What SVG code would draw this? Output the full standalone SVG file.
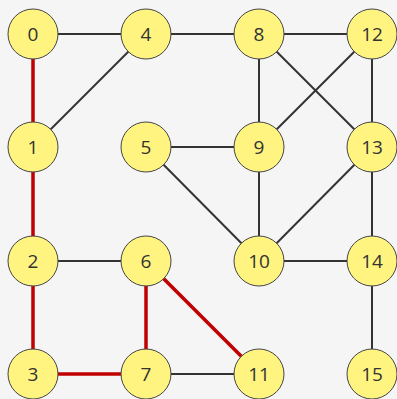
<svg xmlns="http://www.w3.org/2000/svg" width="397" height="399" viewBox="0 0 397 399">
<style>
.e{stroke:#333;stroke-width:2;fill:none}
.r{stroke:#c00000;stroke-width:3.5;fill:none}
.n circle{fill:#fff480;stroke:#444;stroke-width:1}
.n text{font-family:"Open Sans","DejaVu Sans",sans-serif;font-size:19px;fill:#333;text-anchor:middle;dominant-baseline:central}
</style>
<rect width="397" height="399" fill="#f5f5f5"/>
<g id="edges">
<line class="e" x1="33" y1="34" x2="146" y2="34"/>
<line class="e" x1="33" y1="147" x2="146" y2="34"/>
<line class="e" x1="33" y1="261" x2="146" y2="261"/>
<line class="e" x1="146" y1="374" x2="259" y2="374"/>
<line class="e" x1="146" y1="34" x2="259" y2="34"/>
<line class="e" x1="259" y1="34" x2="372" y2="34"/>
<line class="e" x1="259" y1="34" x2="259" y2="147"/>
<line class="e" x1="259" y1="34" x2="372" y2="147"/>
<line class="e" x1="372" y1="34" x2="259" y2="147"/>
<line class="e" x1="372" y1="34" x2="372" y2="147"/>
<line class="e" x1="146" y1="147" x2="259" y2="147"/>
<line class="e" x1="146" y1="147" x2="259" y2="261"/>
<line class="e" x1="259" y1="147" x2="259" y2="261"/>
<line class="e" x1="372" y1="147" x2="259" y2="261"/>
<line class="e" x1="372" y1="147" x2="372" y2="261"/>
<line class="e" x1="259" y1="261" x2="372" y2="261"/>
<line class="e" x1="372" y1="261" x2="372" y2="374"/>
<line class="r" x1="33" y1="34" x2="33" y2="147"/>
<line class="r" x1="33" y1="147" x2="33" y2="261"/>
<line class="r" x1="33" y1="261" x2="33" y2="374"/>
<line class="r" x1="33" y1="374" x2="146" y2="374"/>
<line class="r" x1="146" y1="261" x2="146" y2="374"/>
<line class="r" x1="146" y1="261" x2="259" y2="374"/>
</g>
<g id="n0" class="n"><circle cx="33" cy="34" r="25"/><text x="33" y="34">0</text></g>
<g id="n1" class="n"><circle cx="33" cy="147" r="25"/><text x="33" y="147">1</text></g>
<g id="n2" class="n"><circle cx="33" cy="261" r="25"/><text x="33" y="261">2</text></g>
<g id="n3" class="n"><circle cx="33" cy="374" r="25"/><text x="33" y="374">3</text></g>
<g id="n4" class="n"><circle cx="146" cy="34" r="25"/><text x="146" y="34">4</text></g>
<g id="n5" class="n"><circle cx="146" cy="147" r="25"/><text x="146" y="147">5</text></g>
<g id="n6" class="n"><circle cx="146" cy="261" r="25"/><text x="146" y="261">6</text></g>
<g id="n7" class="n"><circle cx="146" cy="374" r="25"/><text x="146" y="374">7</text></g>
<g id="n8" class="n"><circle cx="259" cy="34" r="25"/><text x="259" y="34">8</text></g>
<g id="n9" class="n"><circle cx="259" cy="147" r="25"/><text x="259" y="147">9</text></g>
<g id="n10" class="n"><circle cx="259" cy="261" r="25"/><text x="259" y="261">10</text></g>
<g id="n11" class="n"><circle cx="259" cy="374" r="25"/><text x="259" y="374">11</text></g>
<g id="n12" class="n"><circle cx="372" cy="34" r="25"/><text x="372" y="34">12</text></g>
<g id="n13" class="n"><circle cx="372" cy="147" r="25"/><text x="372" y="147">13</text></g>
<g id="n14" class="n"><circle cx="372" cy="261" r="25"/><text x="372" y="261">14</text></g>
<g id="n15" class="n"><circle cx="372" cy="374" r="25"/><text x="372" y="374">15</text></g>
</svg>
